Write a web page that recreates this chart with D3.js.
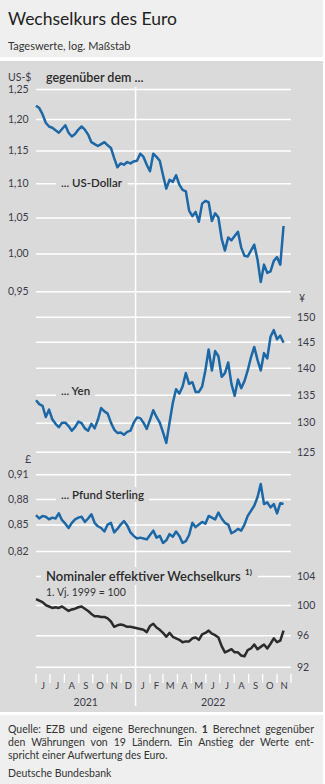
<!DOCTYPE html>
<html><head><meta charset="utf-8">
<script src="https://cdn.jsdelivr.net/npm/d3@7"></script>
<style>
body{margin:0;background:#fff;}
svg{display:block;font-family:Lato,"Open Sans",sans-serif;}
</style></head>
<body><svg id="c" width="325" height="784"></svg>
<script>
// ---- data (weekly readings, starting 1 June 2021) ----
const startDate = new Date(2021,5,1);
const usd = [1.222,1.218,1.208,1.194,1.188,1.186,1.182,1.178,1.184,1.190,1.178,1.172,1.176,1.183,1.188,1.183,1.175,1.163,1.160,1.157,1.160,1.163,1.158,1.154,1.138,1.124,1.130,1.128,1.132,1.130,1.133,1.134,1.145,1.140,1.128,1.118,1.145,1.140,1.134,1.112,1.092,1.105,1.102,1.112,1.098,1.090,1.088,1.060,1.052,1.058,1.044,1.070,1.074,1.072,1.045,1.056,1.050,1.020,1.004,1.022,1.018,1.024,1.030,1.008,0.997,0.996,1.004,1.012,0.992,0.962,0.985,0.974,0.976,0.990,0.995,0.985,1.038];
const yen = [134.0,133.3,133.0,131.0,132.3,130.6,129.8,129.2,130.0,130.0,129.4,128.6,129.2,130.2,129.9,129.0,128.6,129.8,129.0,130.5,132.6,132.0,131.6,130.0,128.8,128.2,128.3,127.9,128.4,128.6,130.0,130.9,130.8,130.0,128.9,130.5,132.2,131.0,130.0,128.3,126.5,130.0,133.5,136.0,135.2,136.5,139.0,137.0,137.3,135.5,135.5,136.5,139.5,143.5,139.5,143.2,142.2,138.3,139.0,141.0,137.0,134.8,137.8,136.2,137.5,139.5,142.0,144.0,141.5,139.5,142.8,141.8,146.0,147.3,145.5,146.2,144.8];
const gbp = [0.861,0.857,0.860,0.859,0.856,0.858,0.857,0.863,0.855,0.851,0.846,0.852,0.856,0.858,0.859,0.853,0.857,0.862,0.852,0.848,0.846,0.842,0.850,0.852,0.841,0.845,0.850,0.854,0.849,0.841,0.837,0.834,0.835,0.834,0.833,0.838,0.843,0.835,0.837,0.829,0.832,0.839,0.836,0.842,0.837,0.829,0.831,0.838,0.852,0.847,0.850,0.853,0.851,0.860,0.858,0.856,0.864,0.857,0.852,0.850,0.840,0.842,0.845,0.843,0.850,0.860,0.866,0.872,0.882,0.898,0.874,0.876,0.870,0.874,0.863,0.875,0.874];
const neer = [100.8,100.6,100.4,100.0,99.8,99.6,99.7,99.6,99.8,99.5,99.2,99.4,99.5,99.7,99.8,99.5,99.2,98.8,98.5,98.5,98.4,98.4,98.2,97.8,97.1,97.3,97.4,97.3,97.1,97.1,97.0,96.9,96.8,96.7,96.4,97.2,97.5,97.0,96.7,96.3,95.8,96.3,95.8,95.6,95.4,95.1,95.2,95.2,95.6,95.7,95.4,96.1,96.3,96.6,96.2,96.0,95.7,94.6,93.8,94.0,94.2,93.8,93.8,93.4,93.3,94.1,94.3,94.8,94.2,94.5,94.8,94.3,94.9,95.6,95.1,95.3,96.6];
const usdTicks = [0.95,1.00,1.05,1.10,1.15,1.20,1.25];
const yenTicks = [125,130,135,140,145,150];
const gbpTicks = [0.82,0.85,0.88,0.91];
const neerTicks = [92,96,100,104];
const monthLetters = ["J","J","A","S","O","N","D","J","F","M","A","M","J","J","A","S","O","N"];
const years = ["2021","2022"];

const dates = usd.map((_, i) => d3.timeDay.offset(startDate, 7*i));

const svg = d3.select("#c");
const BG = "#efefef", PANEL = "#dadadb", TXT = "#3a3a48";
const de = d3.formatLocale({decimal:",", thousands:".", grouping:[3], currency:["","€"]});
const f2 = de.format(".2f");

// backgrounds
svg.append("rect").attr("x",0).attr("y",0).attr("width",323).attr("height",57).attr("fill",BG);
svg.append("rect").attr("x",0).attr("y",61).attr("width",323).attr("height",651).attr("fill",PANEL);
svg.append("rect").attr("x",0).attr("y",715).attr("width",323).attr("height",69).attr("fill",BG);

// header
svg.append("text").attr("x",8).attr("y",25).attr("font-size",17.5).attr("fill","#222").text("Wechselkurs des Euro");
svg.append("text").attr("x",8).attr("y",50).attr("font-size",11).attr("fill","#333").text("Tageswerte, log. Maßstab");

// scales
const x = d3.scaleTime().domain([new Date(2021,5,1), new Date(2022,11,1)]).range([36,291]);
const yU = d3.scaleLog().domain([0.95,1.25]).range([291.3,89]);
const yY = d3.scaleLog().domain([125,150]).range([451.7,316.7]);
const yG = d3.scaleLog().domain([0.82,0.91]).range([551,474.3]);
const yN = d3.scaleLog().domain([92,104]).range([666.7,576]);

function grid(scale, ticks){
  const g = svg.append("g").attr("transform","translate(36,0)")
    .call(d3.axisRight(scale).tickValues(ticks).tickSize(255).tickFormat(""));
  g.select(".domain").remove();
  g.selectAll(".tick line").attr("stroke","#fff").attr("stroke-width",1.5);
}
grid(yU,usdTicks); grid(yY,yenTicks); grid(yG,gbpTicks); grid(yN,neerTicks);

// month ticks
const months = d3.timeMonth.range(new Date(2021,5,1), new Date(2022,11,2));
svg.append("g").selectAll("line").data(months).join("line")
  .attr("x1",d=>x(d)).attr("x2",d=>x(d)).attr("y1",674).attr("y2",683)
  .attr("stroke","#fff").attr("stroke-width",1.3);
// year divider
svg.append("line").attr("x1",x(new Date(2022,0,1))).attr("x2",x(new Date(2022,0,1)))
  .attr("y1",87).attr("y2",706).attr("stroke","#fff").attr("stroke-width",1.5);

// month letters
const mids = months.slice(0,-1).map(d => new Date((+d + +d3.timeMonth.offset(d,1))/2));
svg.append("g").selectAll("text").data(mids).join("text")
  .attr("x",d=>x(d)).attr("y",689).attr("text-anchor","middle").attr("font-size",9.5).attr("fill",TXT)
  .text((d,i)=>monthLetters[i]);
svg.append("text").attr("x",(x(new Date(2021,5,1))+x(new Date(2022,0,1)))/2).attr("y",705.5)
  .attr("text-anchor","middle").attr("font-size",10.5).attr("fill",TXT).text(years[0]);
svg.append("text").attr("x",(x(new Date(2022,0,1))+x(new Date(2022,11,1)))/2).attr("y",705.5)
  .attr("text-anchor","middle").attr("font-size",10.5).attr("fill",TXT).text(years[1]);

// tick labels
function labels(scale, ticks, fmt, xPos){
  svg.append("g").selectAll("text").data(ticks).join("text")
    .attr("x",xPos).attr("y",d=>scale(d)+3.8).attr("font-size",10.5).attr("fill",TXT).text(fmt);
}
labels(yU,usdTicks,f2,8);
labels(yG,gbpTicks,f2,8);
labels(yY,yenTicks,d=>d,297);
labels(yN,neerTicks,d=>d,297);

// unit labels
svg.append("text").attr("x",8).attr("y",81).attr("font-size",10.5).attr("fill",TXT).text("US-$");
svg.append("text").attr("x",299).attr("y",302).attr("font-size",10.5).attr("fill",TXT).text("¥");
svg.append("text").attr("x",25).attr("y",463).attr("font-size",10.5).attr("fill",TXT).text("£");
svg.append("text").attr("x",46).attr("y",82).attr("font-size",12.5).attr("font-weight",600).attr("fill","#2a2a2a").text("gegenüber dem ...");

// series labels with masking boxes
function tag(txt, xx, yy, fs, weight){
  const t = svg.append("text").attr("x",xx).attr("y",yy).attr("font-size",fs).attr("font-weight",weight).attr("fill","#2a2a2a").text(txt);
  const b = t.node().getBBox();
  svg.insert("rect", function(){return t.node();}).attr("x",b.x-5).attr("y",b.y-1).attr("width",b.width+10).attr("height",b.height+2).attr("fill",PANEL);
  return t;
}
tag("... US-Dollar",61,187,11.5,600);
tag("... Yen",61,395,11.5,600);
tag("... Pfund Sterling",61,499,11.5,600);
const nt = tag("Nominaler effektiver Wechselkurs",46,581,13,600);
const nb = nt.node().getBBox();
const sup = svg.append("text").attr("x",nb.x+nb.width+4).attr("y",575).attr("font-size",8).attr("font-weight",700).attr("fill","#2a2a2a").text("1)");
const sb = sup.node().getBBox();
svg.insert("rect", function(){return nt.node();}).attr("x",nb.x+nb.width).attr("y",nb.y-1).attr("width",sb.width+10).attr("height",nb.height+2).attr("fill",PANEL);
svg.append("text").attr("x",46).attr("y",596).attr("font-size",10.5).attr("fill","#333").text("1. Vj. 1999 = 100");

// lines
function series(vals, scale, color){
  svg.append("path").datum(vals)
    .attr("d", d3.line().x((d,i)=>x(dates[i])).y(d=>scale(d)).curve(d3.curveLinear))
    .attr("fill","none").attr("stroke",color).attr("stroke-width",2.5).attr("stroke-linejoin","round");
}
series(usd,yU,"#1c68a7");
series(yen,yY,"#1c68a7");
series(gbp,yG,"#1c68a7");
series(neer,yN,"#2b2b2b");

// footer
function fline(parts, yy, justify){
  const t = svg.append("text").attr("x",8).attr("y",yy).attr("font-size",10.5).attr("fill","#333");
  parts.forEach(p => t.append("tspan").attr("font-weight",p.b?700:400).text(p.t));
  if(justify){
    const full = parts.map(p=>p.t).join("");
    const n = (full.match(/ /g)||[]).length;
    const len = t.node().getComputedTextLength();
    t.attr("word-spacing", (306-len)/n);
  }
}
fline([{t:"Quelle: EZB und eigene Berechnungen. "},{t:"1",b:1},{t:" Berechnet gegenüber"}],733,true);
fline([{t:"den Währungen von 19 Ländern. Ein Anstieg der Werte ent-"}],746,true);
fline([{t:"spricht einer Aufwertung des Euro."}],759,false);
fline([{t:"Deutsche Bundesbank"}],777,false);
</script></body></html>
